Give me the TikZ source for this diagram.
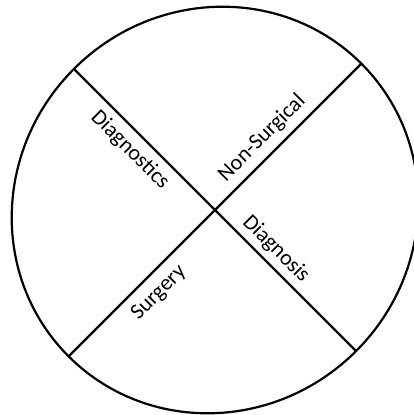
\documentclass[tikz,border=0pt]{standalone}
\usepackage{fontspec}
\setmainfont{Carlito}
\begin{document}
\begin{tikzpicture}[x=1pt,y=-1pt,
  edge/.style={line width=2.2pt,line cap=round},
  lab/.style={font=\fontsize{22}{26}\selectfont,inner sep=0pt}]
\useasboundingbox (0,0) rectangle (414,415);
\coordinate (C) at (215,210);
\draw[edge, rotate around={45:(C)}] (C) ellipse [x radius=207pt, y radius=199.5pt];
\coordinate (tl) at (73.9,68.9);
\coordinate (br) at (356.1,351.1);
\coordinate (tr) at (361.4,63.6);
\coordinate (bl) at (68.6,356.4);
\draw[edge] (tl) -- (br);
\draw[edge] (bl) -- (tr);
\node[lab,rotate=-45] (diagnostics) at (130,150) {Diagnostics};
\node[lab,rotate=45] (nonsurg) at (262,138) {Non-Surgical};
\node[lab,rotate=-45] (diagnosis) at (276,249) {Diagnosis};
\node[lab,rotate=45] (surgery) at (159,293) {Surgery};
\end{tikzpicture}
\end{document}
